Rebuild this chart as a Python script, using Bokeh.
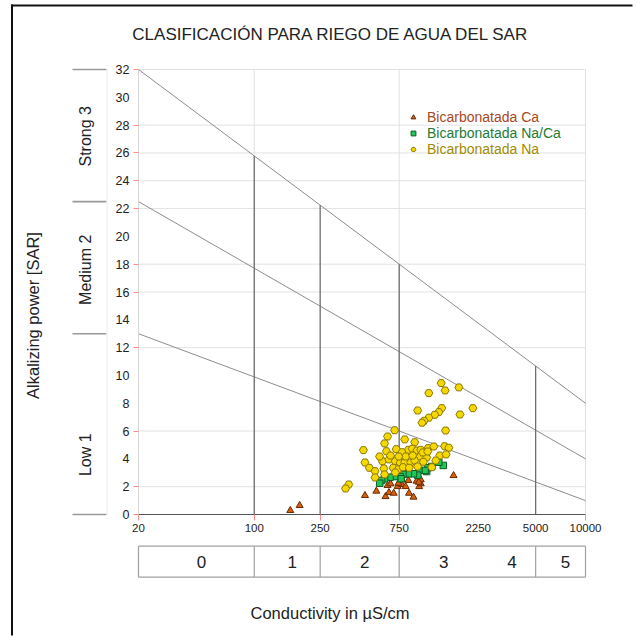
import math
from bokeh.plotting import figure
from bokeh.core.properties import value
from bokeh.models import (Range1d, FixedTicker, NumeralTickFormatter, Label, LabelSet,
                          ColumnDataSource, Legend, LegendItem)
from bokeh.embed import file_html
from bokeh.resources import INLINE

FONT = "Liberation Sans"

# ---------------- data ----------------
ec_ticks = [20, 100, 250, 750, 2250, 5000, 10000]
ec_red_ticks = [20, 100, 250, 750, 10000]
ec_grid = [100, 750]
ec_class_breaks = [20, 100, 250, 750, 2250, 5000, 10000]
ec_class_labels = ["0", "1", "2", "3", "4", "5"]
ec_box_dividers = [100, 250, 750, 5000]

sar_ticks = list(range(0, 33, 2))
sar_grid = [2, 6, 12, 16, 18, 22, 24, 26, 28, 32]
sar_red_ticks = [0, 2, 6, 12, 16, 18, 22, 24, 26, 28, 32]

line_ec = [20, 10000]
line_sar_start = [13, 22.5, 32]
line_sar_end = [1, 4, 8]

hazard_names = ["Low 1", "Medium 2", "Strong 3"]
hazard_label_sar = [4.3, 17.6, 27.2]

ca_ec = [165, 188, 466, 546, 620, 650, 695, 638, 665, 734, 776, 820, 852, 955,
         990, 1012, 860, 915, 742, 780, 1012, 985, 1597]
ca_sar = [0.29, 0.65, 1.37, 1.68, 1.29, 1.58, 1.53, 2.09, 2.21, 2.01, 2.16, 2.01,
          2.45, 2.40, 2.01, 2.21, 1.53, 1.25, 2.25, 2.50, 2.50, 2.32, 2.80]

naca_ec = [1385, 1300, 1180, 1120, 1099, 1075, 985, 970, 915, 852, 790, 760, 770,
           704, 660, 612, 587, 572]
naca_sar = [3.53, 3.76, 3.45, 3.36, 3.09, 3.17, 3.17, 2.83, 2.93, 2.93, 2.88, 2.73,
            2.57, 2.73, 2.68, 2.57, 2.45, 2.25]

na_ec = [1345, 1719, 1420, 1132, 2089, 970, 1355, 1300, 1230, 1132, 1060, 1030,
         1745, 1430, 704, 810, 638, 612, 931, 456, 628, 720, 852, 900, 960, 1012,
         1120, 1213, 1410, 1496, 780, 1318, 1440, 1005, 1099, 466, 594, 650, 710,
         760, 810, 880, 931, 1050, 1247, 495, 536, 606, 690, 742, 790, 862, 970,
         536, 612, 710, 1180, 372, 356, 1040, 1115, 822, 905, 665, 745, 571]
na_sar = [9.45, 9.14, 8.92, 8.73, 7.65, 7.48, 7.65, 7.36, 7.17, 6.96, 6.74, 6.60,
          7.19, 6.04, 6.06, 5.40, 5.61, 5.11, 5.20, 4.63, 4.55, 4.70, 4.65, 4.73,
          4.60, 4.65, 4.77, 4.89, 4.91, 4.80, 4.48, 4.24, 4.32, 4.17, 4.10, 3.74,
          3.83, 3.96, 3.83, 3.72, 3.76, 3.74, 3.88, 3.79, 3.88, 3.36, 3.12, 3.31,
          3.36, 3.26, 3.40, 3.36, 3.45, 2.66, 2.88, 3.02, 3.40, 2.16, 1.87, 4.46,
          4.53, 4.17, 4.24, 4.24, 4.17, 4.17]

# ---------------- layout: the frame covers the whole canvas ----------------
W, H = 634, 637
PX_LEFT, PX_RIGHT, PX_TOP, PX_BOTTOM = 138, 585, 69, 514   # where 20/10000 and 32/0 sit
ppd = (PX_RIGHT - PX_LEFT) / (math.log10(10000) - math.log10(20))
ppu = (PX_BOTTOM - PX_TOP) / 32.0
x_lo = 10 ** (math.log10(20) - PX_LEFT / ppd)
x_hi = 10 ** (4 + (W - PX_RIGHT) / ppd)
y_hi = 32 + PX_TOP / ppu
y_lo = -(H - PX_BOTTOM) / ppu


def xpx(px):
    return 10 ** (math.log10(20) + (px - PX_LEFT) / ppd)


def ypx(py):
    return (PX_BOTTOM - py) / ppu


p = figure(width=W, height=H, x_axis_type="log", title=None,
           x_range=Range1d(x_lo, x_hi), y_range=Range1d(y_lo, y_hi),
           output_backend="svg", toolbar_location=None,
           min_border_left=0, min_border_right=0, min_border_top=0, min_border_bottom=0)
p.background_fill_color = "white"
p.border_fill_color = "white"
p.outline_line_color = "white"
p.outline_line_width = 3
p.xgrid.visible = False
p.ygrid.visible = False

# outer frame (top and left edges, the rest is cut off as in the picture), filled bars
p.quad(left=[xpx(10.5), xpx(10.5)], right=[xpx(W - 2), xpx(12.5)],
       top=[ypx(4), ypx(4)], bottom=[ypx(6), ypx(H - 2)],
       fill_color="#111111", line_color=None)

xa = p.xaxis[0]
xa.fixed_location = 0
xa.bounds = (20, 10000)
xa.ticker = FixedTicker(ticks=ec_ticks, minor_ticks=ec_red_ticks)
xa.formatter = NumeralTickFormatter(format="0")
xa.major_tick_line_color = None
xa.major_tick_out = 6
xa.major_tick_in = 0
xa.minor_tick_line_color = "#ff8a8a"
xa.minor_tick_out = 6
xa.minor_tick_in = 0
xa.axis_line_color = "#555555"
xa.major_label_text_font = FONT
xa.major_label_text_font_size = "11.5px"
xa.major_label_text_color = "#222222"
xa.major_label_standoff = 3

ya = p.yaxis[0]
ya.fixed_location = 20
ya.bounds = (0, 32)
ya.ticker = FixedTicker(ticks=sar_ticks, minor_ticks=sar_red_ticks)
ya.major_tick_line_color = None
ya.major_tick_out = 5
ya.major_tick_in = 0
ya.minor_tick_line_color = "#ff8a8a"
ya.minor_tick_out = 5
ya.minor_tick_in = 0
ya.axis_line_color = "#d6d6d6"
ya.major_label_text_font = FONT
ya.major_label_text_font_size = "12.5px"
ya.major_label_text_color = "#222222"
ya.major_label_standoff = 4

GRID = "#e2e2e2"
# grid lines limited to the chart area
p.segment(x0=[20] * len(sar_grid), x1=[10000] * len(sar_grid), y0=sar_grid, y1=sar_grid,
          line_color=GRID, line_width=1)
p.segment(x0=ec_grid + [10000], x1=ec_grid + [10000], y0=[0] * 3, y1=[32] * 3,
          line_color=GRID, line_width=1)

# SAR class boundary lines
for s0, s1 in zip(line_sar_start, line_sar_end):
    p.line(line_ec, [s0, s1], line_color="#8c8c8c", line_width=1)

# vertical salinity dividers up to the top boundary line
lo, hi = math.log10(line_ec[0]), math.log10(line_ec[1])
tops = [line_sar_start[-1] + (line_sar_end[-1] - line_sar_start[-1]) *
        (math.log10(e) - lo) / (hi - lo) for e in ec_box_dividers]
p.segment(x0=ec_box_dividers, y0=[0] * len(ec_box_dividers), x1=ec_box_dividers,
          y1=tops, line_color="#6e6e6e", line_width=1.3)

# hazard separators on the left
sep_y = [0] + line_sar_start
p.segment(x0=[xpx(72)] * len(sep_y), x1=[xpx(106)] * len(sep_y), y0=sep_y, y1=sep_y,
          line_color="#9a9a9a", line_width=1.6)
p.segment(x0=[xpx(106.5)], x1=[xpx(106.5)], y0=[0], y1=[32],
          line_color="#ececec", line_width=1)

# salinity class box below the axis
yb_top, yb_bot = ypx(545.7), ypx(576.7)
c0, c1 = ec_class_breaks[0], ec_class_breaks[-1]
p.segment(x0=[c0, c0, c0, c1] + ec_box_dividers,
          x1=[c1, c1, c0, c1] + ec_box_dividers,
          y0=[yb_top, yb_bot, yb_top, yb_top] + [yb_top] * len(ec_box_dividers),
          y1=[yb_top, yb_bot, yb_bot, yb_bot] + [yb_bot] * len(ec_box_dividers),
          line_color="#a0a0a0", line_width=1.2)

centers = [math.sqrt(a * b) for a, b in zip(ec_class_breaks[:-1], ec_class_breaks[1:])]
cls_src = ColumnDataSource(dict(x=centers, y=[(yb_top + yb_bot) / 2] * len(centers),
                                t=ec_class_labels))
TXT = "#222222"
p.add_layout(LabelSet(x="x", y="y", text="t", source=cls_src, x_offset=5,
                      text_align="center", text_baseline="middle",
                      text_font=value(FONT), text_font_size="17px", text_color=TXT))

# points
r_ca = p.scatter(ca_ec, ca_sar, marker="triangle", size=7,
                 fill_color="#d4600f", line_color="#6a2a00", line_width=1)
r_naca = p.scatter(naca_ec, naca_sar, marker="square", size=6.5,
                   fill_color="#22c55a", line_color="#0b5a24", line_width=1)
r_na = p.scatter(na_ec, na_sar, marker="hex", size=8,
                 fill_color="#f4d800", line_color="#8c7800", line_width=1)

# legends (one per series so each label keeps its own colour)
for i, (r, lab, col) in enumerate([(r_ca, "Bicarbonatada Ca", "#a8481c"),
                                   (r_naca, "Bicarbonatada Na/Ca", "#1e7a36"),
                                   (r_na, "Bicarbonatada Na", "#a08c00")]):
    leg = Legend(items=[LegendItem(label=lab, renderers=[r])],
                 location=(407, H - 116 - 9 - 16 * i), padding=0, margin=0, spacing=0,
                 glyph_width=12, glyph_height=16, label_height=16,
                 label_standoff=8, border_line_color=None,
                 background_fill_alpha=0,
                 label_text_font=FONT, label_text_font_size="14px",
                 label_text_color=col)
    p.add_layout(leg)

# texts
p.add_layout(Label(x=xpx(331), y=ypx(33.5), text="CLASIFICACIÓN PARA RIEGO DE AGUA DEL SAR",
                   text_align="center", text_baseline="middle",
                   text_font=FONT, text_font_size="17px", text_color=TXT))
p.add_layout(Label(x=xpx(32), y=ypx(315), text="Alkalizing power [SAR]", angle=math.pi / 2,
                   text_align="center", text_baseline="middle",
                   text_font=FONT, text_font_size="16.5px", text_color=TXT))
p.add_layout(Label(x=xpx(329.5), y=ypx(612), text="Conductivity in µS/cm",
                   text_align="center", text_baseline="middle",
                   text_font=FONT, text_font_size="16.5px", text_color=TXT))
for name, yv in zip(hazard_names, hazard_label_sar):
    p.add_layout(Label(x=xpx(85), y=yv, text=name, angle=math.pi / 2,
                       text_align="center", text_baseline="middle",
                       text_font=FONT, text_font_size="16px", text_color=TXT))

open("out.html", "w").write(file_html(p, INLINE))
